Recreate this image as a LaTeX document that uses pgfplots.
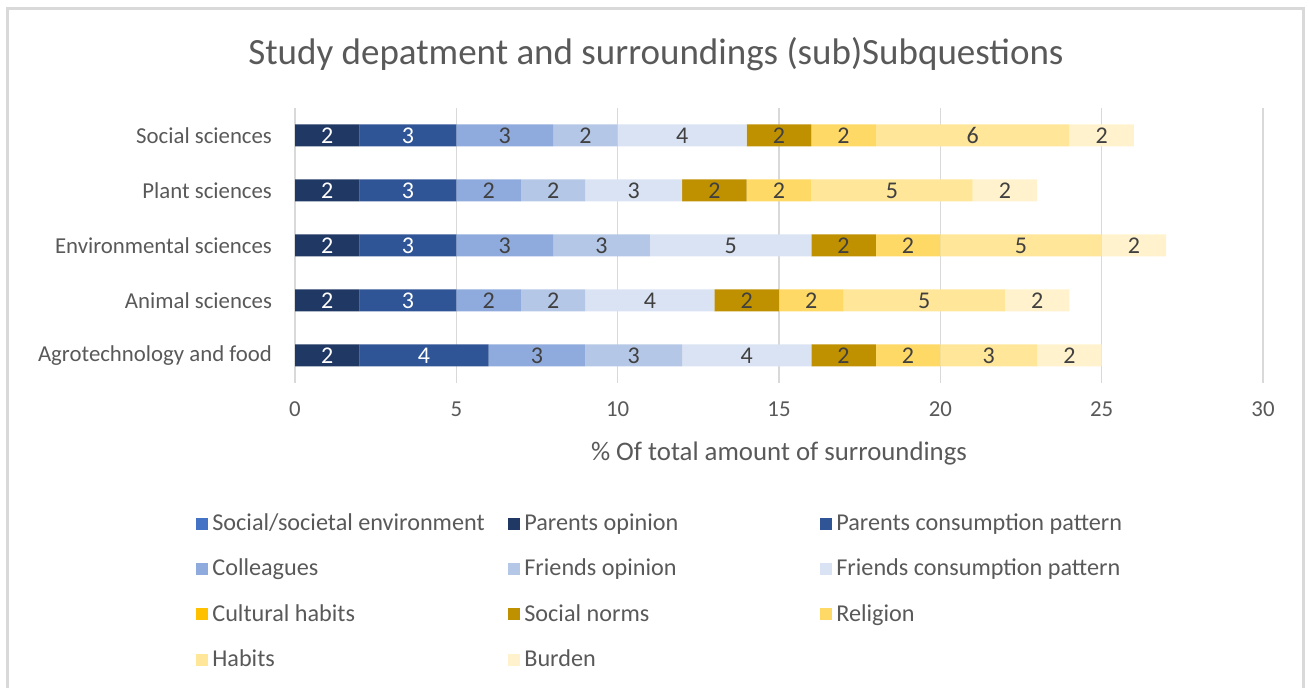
\documentclass[border=0pt]{standalone}
\usepackage{pgfplots}
\pgfplotsset{compat=1.18}
\usepackage{fontspec}
\setmainfont{Carlito}
\definecolor{txt}{HTML}{595959}
\definecolor{lbl}{HTML}{404040}
\definecolor{gridc}{HTML}{D9D9D9}
\definecolor{cA}{HTML}{4472C4}
\definecolor{cB}{HTML}{203864}
\definecolor{cC}{HTML}{2F5597}
\definecolor{cD}{HTML}{8FAADC}
\definecolor{cE}{HTML}{B4C7E7}
\definecolor{cF}{HTML}{DAE3F3}
\definecolor{cG}{HTML}{FFC000}
\definecolor{cH}{HTML}{BF9000}
\definecolor{cI}{HTML}{FFD966}
\definecolor{cJ}{HTML}{FFE699}
\definecolor{cK}{HTML}{FFF2CC}
\newcommand{\ca}[1]{\makebox[146pt][l]{#1}}
\newcommand{\cb}[1]{\makebox[146pt][l]{#1}}
\begin{document}
\begin{tikzpicture}
\useasboundingbox (0pt,0pt) rectangle (654.5pt,344pt);
\draw[gridc, line width=1.5pt] (3.5pt,-6pt) -- (3.5pt,339.5pt) -- (651.5pt,339.5pt) -- (651.5pt,-6pt);
\node[txt, font=\fontsize{18.5}{22}\selectfont] at (328pt,317pt) {Study depatment and surroundings (sub)Subquestions};
\begin{axis}[
  at={(147.5pt,152.5pt)}, anchor=south west,
  scale only axis, width=484pt, height=137.5pt,
  xbar stacked, bar width=11pt,
  xmin=0, xmax=30, ymin=-0.5, ymax=4.5,
  xtick={0,5,...,30},
  ytick={0,1,2,3,4},
  yticklabels={Agrotechnology and food, Animal sciences, Environmental sciences, Plant sciences, Social sciences},
  axis line style={draw=none},
  major tick length=0pt,
  xmajorgrids, grid style={gridc, line width=0.8pt},
  ticklabel style={txt, font=\fontsize{11.4}{13}\selectfont},
  yticklabel style={xshift=-8pt},
  xticklabel style={yshift=-6pt},
  xlabel={\% Of total amount of surroundings},
  xlabel style={txt, font=\fontsize{13.4}{15}\selectfont, yshift=-5.5pt},
  /pgf/number format/assume math mode=true,
  point meta=explicit,
  nodes near coords,
  nodes near coords style={font=\fontsize{12}{13}\selectfont, anchor=center},
  legend columns=3,
  legend cell align=left,
  legend style={at={(-0.1085,-0.445)}, anchor=north west, draw=none, fill=none,
    font=\fontsize{12.1}{13}\selectfont, text=txt, row sep=8.8pt, column sep=0pt,
    /tikz/every even column/.append style={column sep=0pt}},
  legend image code/.code={\fill[#1] (0pt,-3pt) rectangle (6pt,3pt);},
  every axis plot/.append style={draw=none},
]
\addplot[fill=cA, nodes near coords={}] coordinates {(0,0) [0] (0,1) [0] (0,2) [0] (0,3) [0] (0,4) [0]};
\addplot[fill=cB, nodes near coords style={white}] coordinates {(2,0) [2] (2,1) [2] (2,2) [2] (2,3) [2] (2,4) [2]};
\addplot[fill=cC, nodes near coords style={white}] coordinates {(4,0) [4] (3,1) [3] (3,2) [3] (3,3) [3] (3,4) [3]};
\addplot[fill=cD, nodes near coords style={lbl}] coordinates {(3,0) [3] (2,1) [2] (3,2) [3] (2,3) [2] (3,4) [3]};
\addplot[fill=cE, nodes near coords style={lbl}] coordinates {(3,0) [3] (2,1) [2] (3,2) [3] (2,3) [2] (2,4) [2]};
\addplot[fill=cF, nodes near coords style={lbl}] coordinates {(4,0) [4] (4,1) [4] (5,2) [5] (3,3) [3] (4,4) [4]};
\addplot[fill=cG, nodes near coords={}] coordinates {(0,0) [0] (0,1) [0] (0,2) [0] (0,3) [0] (0,4) [0]};
\addplot[fill=cH, nodes near coords style={lbl}] coordinates {(2,0) [2] (2,1) [2] (2,2) [2] (2,3) [2] (2,4) [2]};
\addplot[fill=cI, nodes near coords style={lbl}] coordinates {(2,0) [2] (2,1) [2] (2,2) [2] (2,3) [2] (2,4) [2]};
\addplot[fill=cJ, nodes near coords style={lbl}] coordinates {(3,0) [3] (5,1) [5] (5,2) [5] (5,3) [5] (6,4) [6]};
\addplot[fill=cK, nodes near coords style={lbl}] coordinates {(2,0) [2] (2,1) [2] (2,2) [2] (2,3) [2] (2,4) [2]};
\legend{\ca{Social/societal environment}, \cb{Parents opinion}, Parents consumption pattern,
  \ca{Colleagues}, \cb{Friends opinion}, Friends consumption pattern,
  \ca{Cultural habits}, \cb{Social norms}, Religion,
  \ca{Habits}, \cb{Burden}}
\end{axis}
\end{tikzpicture}
\end{document}
